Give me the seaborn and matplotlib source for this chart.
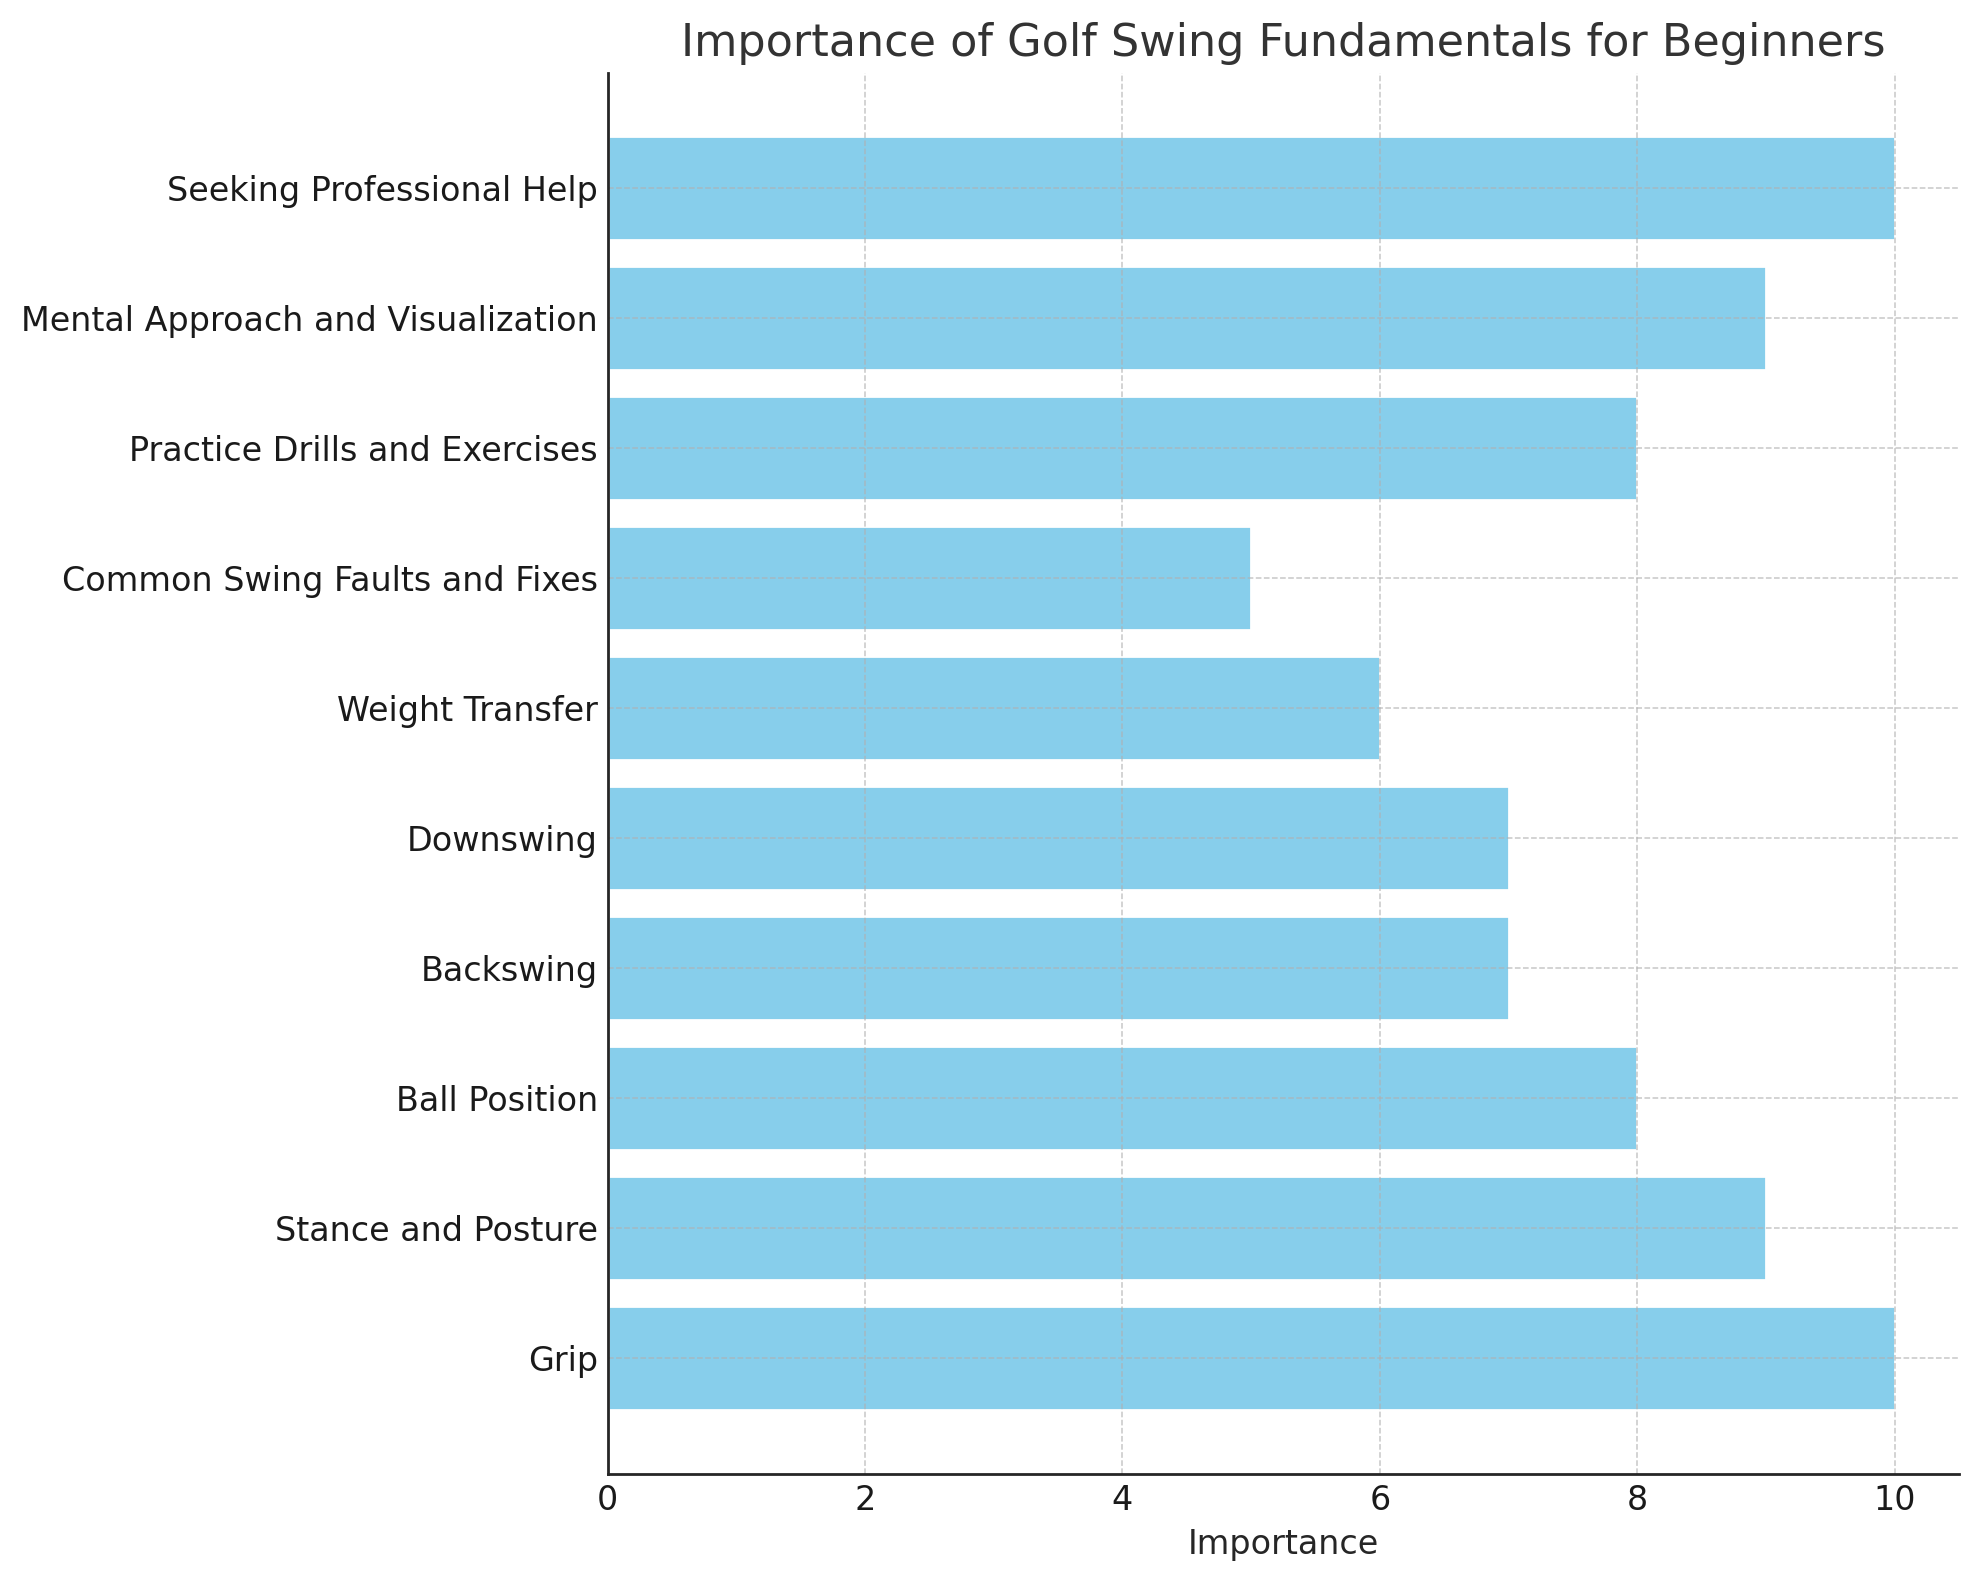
import matplotlib
matplotlib.use("Agg")
import matplotlib.pyplot as plt
import seaborn as sns
import pandas as pd

# categories from top to bottom as shown in the chart
categories = [
    "Seeking Professional Help",
    "Mental Approach and Visualization",
    "Practice Drills and Exercises",
    "Common Swing Faults and Fixes",
    "Weight Transfer",
    "Downswing",
    "Backswing",
    "Ball Position",
    "Stance and Posture",
    "Grip",
]
importance = [10, 9, 8, 5, 6, 7, 7, 8, 9, 10]

df = pd.DataFrame({"Fundamental": categories, "Importance": importance})

sns.set_style("white")
plt.rcParams["font.family"] = ["DejaVu Sans"]

fig, ax = plt.subplots(figsize=(9.895, 7.9), dpi=200)
fig.subplots_adjust(left=0.307, right=0.990, top=0.954, bottom=0.067)
sns.barplot(data=df, x="Importance", y="Fundamental", order=categories,
            color="skyblue", saturation=1, width=0.8, ax=ax)

ax.set_ylim(len(categories) - 1 + 0.89, -0.89)
ax.set_xlim(0, 10.5)

ax.set_title("Importance of Golf Swing Fundamentals for Beginners", fontsize=16, color="#333333")
ax.set_xlabel("Importance", fontsize=12, color="#262626")
ax.set_ylabel("")
ax.tick_params(axis="both", direction="in", labelsize=12, length=3.5, width=1.0,
               colors="#262626", labelcolor="#1a1a1a")

# grid drawn over the bars, light and dashed
ax.set_axisbelow(False)
ax.grid(True, linestyle="--", color="#b0b0b0", alpha=0.7, linewidth=0.55)

for s in ["top", "right"]:
    ax.spines[s].set_visible(False)
for s in ["left", "bottom"]:
    ax.spines[s].set_color("#262626")
    ax.spines[s].set_linewidth(1.0)
    ax.spines[s].set_zorder(3)

fig.savefig("out.png", dpi=200)
